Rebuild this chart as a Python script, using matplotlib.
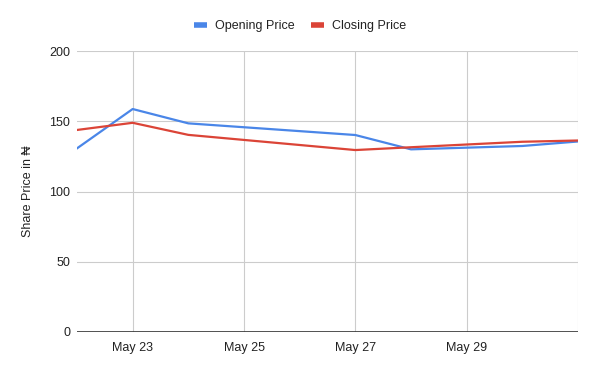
import matplotlib
matplotlib.use("Agg")
import matplotlib.pyplot as plt
import matplotlib.dates as mdates
import numpy as np
from datetime import datetime

plt.rcParams['font.family'] = ['Liberation Sans', 'DejaVu Sans']

dates = ["2024-05-22", "2024-05-23", "2024-05-24", "2024-05-27", "2024-05-28", "2024-05-30", "2024-05-31"]
opening = [130.7, 158.7, 148.5, 140.2, 130.0, 132.4, 135.6]
closing = [143.8, 148.9, 140.3, 129.5, 131.5, 135.4, 136.3]
tick_dates = ["2024-05-23", "2024-05-25", "2024-05-27", "2024-05-29"]
tick_labels = ["May 23", "May 25", "May 27", "May 29"]
yticks = [0, 50, 100, 150, 200]

x = [datetime.strptime(d, "%Y-%m-%d") for d in dates]
tx = [datetime.strptime(d, "%Y-%m-%d") for d in tick_dates]

fig = plt.figure(figsize=(6, 3.71), dpi=100)
ax = fig.add_axes([77/600, 1-332/371, (578-77)/600, (332-51)/371])

ax.plot(x, opening, color='#4a86e8', lw=1.6, label='Opening Price', solid_joinstyle='round')
ax.plot(x, closing, color='#db4437', lw=1.6, label='Closing Price', solid_joinstyle='round')

ax.set_xlim(x[0], x[-1])
ax.set_ylim(0, 200)
ax.set_yticks(yticks)
ax.set_xticks(tx)
ax.set_xticklabels(tick_labels)

for t in tx + [x[-1]]:
    ax.axvline(t, color='#cccccc', lw=0.8, zorder=0)
for yv in yticks[1:]:
    ax.axhline(yv, color='#cccccc', lw=0.8, zorder=0)
ax.axhline(0, color='#333333', lw=1.2, zorder=3)

for s in ax.spines.values():
    s.set_visible(False)
ax.tick_params(axis='both', length=0, labelsize=9, colors='#444444')
ax.tick_params(axis='x', pad=7)
ax.tick_params(axis='y', pad=5)
for lbl in ax.get_xticklabels() + ax.get_yticklabels():
    lbl.set_color('#222222')

ax.set_ylabel('Share Price in ₦', fontsize=9, color='#222222')
ax.yaxis.set_label_coords((34-77)/501, 0.5)

leg = fig.legend(loc='center', bbox_to_anchor=(0.5, 1-26/371), ncol=2, frameon=False,
                 fontsize=9, handlelength=1.04, handletextpad=0.64, columnspacing=1.36)
for h in leg.get_lines():
    h.set_linewidth(4)
    h.set_solid_capstyle('butt')
for t in leg.get_texts():
    t.set_color('#222222')

fig.savefig('out.png', dpi=100)
